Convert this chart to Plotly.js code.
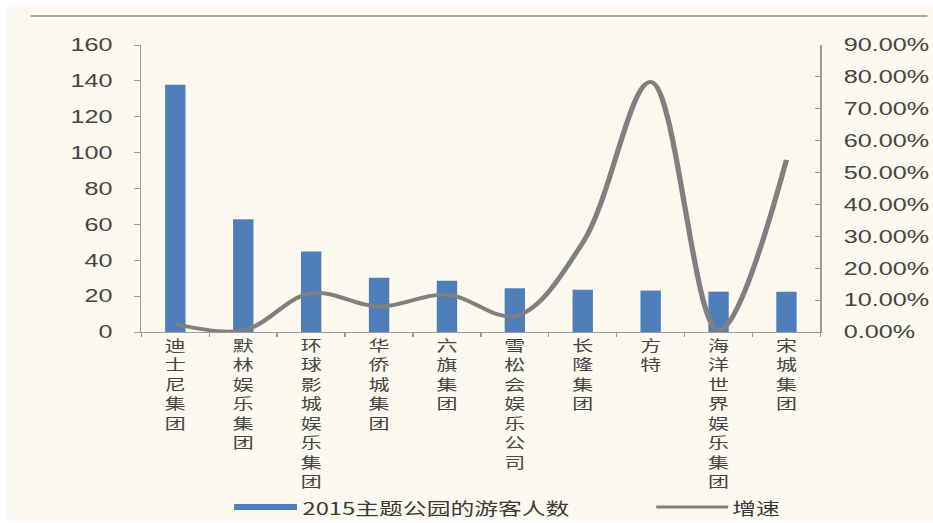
<!DOCTYPE html>
<html><head><meta charset="utf-8">
<script src="https://cdn.plot.ly/plotly-3.0.1.min.js"></script>
<style>
html,body{margin:0;padding:0;background:#fff;width:933px;height:523px;overflow:hidden;}
#wrap{position:absolute;left:7px;top:7px;width:926px;height:514px;background:#fcf9ef;overflow:hidden;}
#chart{width:661.43px;height:514px;transform:scaleX(1.4);transform-origin:0 0;}
</style></head><body><div id="wrap"><div id="chart"></div></div>
<script>
const categories = ['迪士尼集团','默林娱乐集团','环球影城娱乐集团','华侨城集团','六旗集团','雪松会娱乐公司','长隆集团','方特','海洋世界娱乐集团','宋城集团'];
const visitors = [137.9, 62.8, 44.9, 30.2, 28.6, 24.4, 23.6, 23.1, 22.5, 22.4];
const growth = [0.025, 0.005, 0.122, 0.080, 0.117, 0.050, 0.280, 0.784, 0.005, 0.540];
const seriesNames = ['2015主题公园的游客人数', '增速'];
const leftTicks = [0, 20, 40, 60, 80, 100, 120, 140, 160];

const labels = categories.map(c => c.split('').join('<br>'));

const W = 661.43, H = 514, L = 95.7, R = 80, T = 38, B = 189;
const PW = W - L - R, PH = H - T - B;
function px(x){ return (x - L) / PW; }
function py(y){ return (H - B - y) / PH; }

const barColor = '#4f7fbb';
const lineColor = '#808080';
const tickFont = {family: 'Liberation Sans, Arial, sans-serif', size: 18, color: '#454545'};
const cjk = 'Noto Sans CJK SC, sans-serif';

const traces = [
  {type: 'bar', name: seriesNames[0], x: labels, y: visitors, marker: {color: barColor}, yaxis: 'y'},
  {type: 'scatter', mode: 'lines', name: seriesNames[1], x: labels, y: growth, yaxis: 'y2',
   line: {color: lineColor, width: 3.8, shape: 'spline', smoothing: 1}}
];

const layout = {
  width: W, height: H,
  margin: {l: L, r: R, t: T, b: B, pad: 0},
  paper_bgcolor: '#fcf9ef', plot_bgcolor: '#fcf9ef',
  showlegend: false,
  bargap: 0.7,
  xaxis: {type: 'category', showline: true, linecolor: '#9a9a9a', linewidth: 1,
    ticks: 'outside', tickson: 'boundaries', ticklen: 4, tickcolor: '#9a9a9a',
    tickfont: {family: cjk, size: 15, color: '#454545'}, ticklabelstandoff: 0,
    showgrid: false, zeroline: false, fixedrange: true},
  yaxis: {range: [0, 160], tickvals: leftTicks, showline: true, linecolor: '#9a9a9a', linewidth: 1,
    ticks: 'outside', ticklen: 4, tickcolor: '#9a9a9a', tickfont: tickFont, ticklabelstandoff: 12,
    showgrid: false, zeroline: false},
  yaxis2: {range: [0, 0.9], dtick: 0.1, tickformat: '.2%', overlaying: 'y', side: 'right',
    showline: true, linecolor: '#9a9a9a', linewidth: 1, ticks: 'inside', ticklen: 4, tickcolor: '#9a9a9a',
    tickfont: tickFont, ticklabelstandoff: 12, showgrid: false, zeroline: false},
  shapes: [
    {type: 'line', xref: 'paper', yref: 'paper', x0: px(16.4), x1: px(658), y0: py(9), y1: py(9),
     line: {color: '#a9a9a9', width: 2}},
    {type: 'rect', xref: 'paper', yref: 'paper', x0: px(162), x1: px(207), y0: py(497), y1: py(503),
     fillcolor: barColor, line: {width: 0}},
    {type: 'line', xref: 'paper', yref: 'paper', x0: px(464), x1: px(515.5), y0: py(500), y1: py(500),
     line: {color: lineColor, width: 3}}
  ],
  annotations: [
    {xref: 'paper', yref: 'paper', x: px(209), y: py(500), xanchor: 'left', yanchor: 'middle',
     text: seriesNames[0], showarrow: false, font: {family: cjk, size: 17, color: '#3a3a3a'}},
    {xref: 'paper', yref: 'paper', x: px(516.5), y: py(500), xanchor: 'left', yanchor: 'middle',
     text: seriesNames[1], showarrow: false, font: {family: cjk, size: 17, color: '#3a3a3a'}}
  ]
};

Plotly.newPlot('chart', traces, layout, {displayModeBar: false, staticPlot: true});
</script></body></html>
